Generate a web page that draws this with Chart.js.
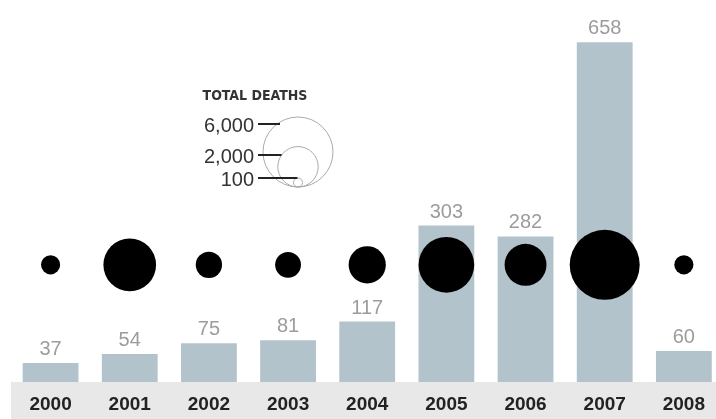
<!DOCTYPE html>
<html>
<head>
<meta charset="utf-8">
<script src="https://cdn.jsdelivr.net/npm/chart.js@4.4.0/dist/chart.umd.min.js"></script>
<style>
  html, body { margin: 0; padding: 0; background: #fff; overflow: hidden; }
  #wrap { position: relative; width: 716px; height: 419px; }
</style>
</head>
<body>
<div id="wrap"><canvas id="chart"></canvas></div>
<script>
const years = ['2000', '2001', '2002', '2003', '2004', '2005', '2006', '2007', '2008']
const incidents = [37, 54, 75, 81, 117, 303, 282, 658, 60]
// circle sizes (area ~ deaths, 6,000 = biggest legend circle)
const totalDeaths = [450, 3400, 850, 820, 1700, 3800, 2150, 6000, 450]
const legendDeaths = [6000, 2000, 100]
const legendLabels = ['6,000', '2,000', '100']

const MAX_R = 35
const radiusFor = (d) => MAX_R * Math.sqrt(d / 6000)
const circleRow = 227 // level of the circle row, in bar units

const numFont = '"Liberation Sans", Arial, sans-serif'
const narrowFont = '"Liberation Sans Narrow", "DejaVu Sans Condensed", "Liberation Sans", sans-serif'

// grey strip under the bars that holds the year labels
const bandPlugin = {
  id: 'band',
  beforeDraw (chart) {
    const { ctx, chartArea, width, height } = chart
    ctx.save()
    ctx.fillStyle = '#e8e8e8'
    ctx.fillRect(chartArea.left, chartArea.bottom, width - chartArea.left, height - chartArea.bottom)
    ctx.restore()
  }
}

// numbers over each bar
const valuePlugin = {
  id: 'values',
  afterDatasetsDraw (chart) {
    const { ctx } = chart
    const meta = chart.getDatasetMeta(1)
    ctx.save()
    ctx.font = '20px ' + numFont
    ctx.fillStyle = '#9c9c9c'
    ctx.textAlign = 'center'
    ctx.textBaseline = 'alphabetic'
    meta.data.forEach((bar, i) => {
      ctx.fillText(String(incidents[i]), bar.x, bar.y - 8)
    })
    ctx.restore()
  }
}

// "TOTAL DEATHS" key with nested circles
const keyPlugin = {
  id: 'key',
  afterDraw (chart) {
    const { ctx } = chart
    const cx = 298
    const baseY = 187
    const lineYs = [124, 155, 178]
    ctx.save()
    ctx.fillStyle = '#333'
    ctx.font = 'bold 14px ' + narrowFont
    ctx.textAlign = 'center'
    ctx.textBaseline = 'middle'
    ctx.fillText('TOTAL DEATHS', 255, 96)

    ctx.strokeStyle = '#aaa'
    ctx.lineWidth = 1
    legendDeaths.forEach((d) => {
      const r = radiusFor(d)
      ctx.beginPath()
      ctx.arc(cx, baseY - r, r, 0, Math.PI * 2)
      ctx.stroke()
    })

    ctx.font = '20px ' + numFont
    ctx.textAlign = 'right'
    ctx.strokeStyle = '#222'
    ctx.lineWidth = 2
    legendDeaths.forEach((d, i) => {
      const r = radiusFor(d)
      const y = lineYs[i]
      const dy = y - (baseY - r)
      const endX = Math.abs(dy) < r ? cx - Math.sqrt(r * r - dy * dy) : cx
      ctx.fillText(legendLabels[i], 254, y + 2)
      ctx.beginPath()
      ctx.moveTo(258, y)
      ctx.lineTo(Math.max(endX, 280), y)
      ctx.stroke()
    })
    ctx.restore()
  }
}

new Chart(document.getElementById('chart'), {
  type: 'bar',
  data: {
    datasets: [
      {
        type: 'bubble',
        data: totalDeaths.map((d, i) => ({ x: i, y: circleRow, r: radiusFor(d) })),
        backgroundColor: '#000',
        borderWidth: 0,
        clip: false,
        order: 0
      },
      {
        type: 'bar',
        data: incidents.map((v, i) => ({ x: i, y: v })),
        backgroundColor: '#b3c3cc',
        categoryPercentage: 1,
        barPercentage: 0.705,
        order: 1
      }
    ]
  },
  options: {
    responsive: true,
    maintainAspectRatio: false,
    animation: false,
    layout: { autoPadding: false, padding: { left: 11, right: 0, top: 0, bottom: 0 } },
    plugins: {
      legend: { display: false },
      tooltip: { enabled: false }
    },
    scales: {
      x: {
        type: 'linear',
        offset: false,
        min: -0.5,
        max: 8.38,
        grid: { display: false, drawTicks: false, offset: false },
        border: { display: false },
        afterBuildTicks: (scale) => {
          scale.ticks = years.map((_, i) => ({ value: i }))
        },
        afterFit: (scale) => {
          scale.height = 37
        },
        ticks: {
          padding: 11,
          color: '#222',
          font: { family: numFont, size: 19, weight: 'bold' },
          callback: (value) => years[value] ?? ''
        }
      },
      y: {
        display: false,
        min: 0,
        max: 740
      }
    }
  },
  plugins: [bandPlugin, valuePlugin, keyPlugin]
})
</script>
</body>
</html>
